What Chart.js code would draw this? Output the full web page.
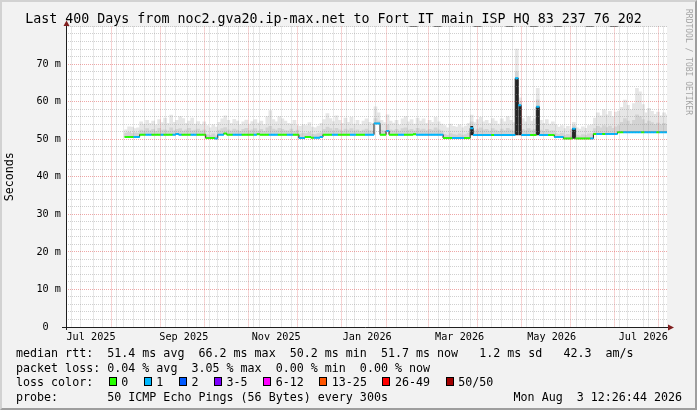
<!DOCTYPE html>
<html>
<head>
<meta charset="utf-8">
<script src="https://cdn.jsdelivr.net/npm/chart.js@4/dist/chart.umd.min.js"></script>
<style>
html,body{margin:0;padding:0;background:#f2f2f2;overflow:hidden}
#frame{position:absolute;left:0;top:0;width:697px;height:410px;box-sizing:border-box;border:2px solid;border-color:#d2d2d2 #9e9e9e #9e9e9e #d2d2d2;background:#f2f2f2}
#canvasBg{position:absolute;left:66px;top:26.5px;width:601px;height:300.5px;background:#fff}
#c{position:absolute;left:0;top:0;width:697px;height:410px}
.t{position:absolute;font-family:'DejaVu Sans Mono',monospace;font-size:11.67px;line-height:14px;white-space:pre;color:#000}
#wm{position:absolute;left:684px;top:9px;font-family:'DejaVu Sans Mono',monospace;font-size:8px;line-height:8px;writing-mode:vertical-rl;color:#a4a4a4;white-space:pre}
.bx{display:inline-block;width:2ch;height:1px;position:relative}
.bx i{position:absolute;left:1.5px;top:-8px;width:6px;height:7px;border:1px solid #000}
</style>
</head>
<body>
<div id="frame"></div>
<div id="canvasBg"></div>
<canvas id="c" width="697" height="410"></canvas>
<div id="wm">RRDTOOL / TOBI OETIKER</div>
<div class="t" id="l1" style="left:16px;top:346px"></div>
<div class="t" id="l2" style="left:16px;top:361px"></div>
<div class="t" id="l3" style="left:16px;top:375px"></div>
<div class="t" id="l4" style="left:16px;top:390px"></div>
<div class="t" id="l4r" style="right:15px;top:390px"></div>
<script>
// ---------------- data ----------------
// samples every 2 days, first sample 40 days after the graph start
const firstDay = 40;
const stepDays = 2;

// median rtt (ms)
const median = [
50.6,50.6,50.6,50.6,50.6,51.2,51.2,51.2,51.2,51.2,
51.2,51.2,51.2,51.2,51.2,51.2,51.2,51.4,51.2,51.2,
51.2,51.2,51.2,51.2,51.2,51.2,51.2,50.3,50.3,50.3,
50.2,51.2,51.2,51.5,51.2,51.2,51.2,51.2,51.2,51.2,
51.2,51.2,51.2,51.2,51.3,51.2,51.2,51.2,51.2,51.2,
51.2,51.2,51.2,51.2,51.2,51.2,51.2,51.2,50.3,50.3,
50.6,50.6,50.4,50.4,50.4,50.6,51.2,51.2,51.2,51.2,
51.2,51.2,51.2,51.2,51.2,51.2,51.2,51.2,51.2,51.2,
51.2,51.2,51.2,54.2,54.2,51.2,51.2,52.2,51.2,51.2,
51.2,51.2,51.2,51.2,51.2,51.2,51.3,51.2,51.2,51.2,
51.2,51.2,51.2,51.2,51.2,51.2,50.3,50.3,50.3,50.3,
50.3,50.3,50.3,50.3,50.3,52.9,51.1,51.1,51.1,51.1,
51.1,51.1,51.1,51.1,51.1,51.1,51.1,51.1,51.1,51.1,
66.2,59.0,51.1,51.1,51.1,51.1,51.1,58.6,51.1,51.1,
51.1,51.1,51.1,50.6,50.6,50.6,50.2,50.2,50.2,52.8,
50.2,50.2,50.2,50.2,50.2,50.2,51.4,51.4,51.4,51.4,
51.4,51.4,51.4,51.4,51.85,51.85,51.85,51.85,51.85,51.85,
51.85,51.85,51.85,51.85,51.85,51.85,51.85,51.85,51.85,51.85,51.85
];

// lost pings per sample (index into lossColors)
const loss = [
0,0,0,1,1,0,0,1,1,0,
0,0,1,0,0,0,1,1,1,0,
0,0,1,1,0,0,0,0,0,0,
1,1,1,0,0,0,1,1,1,0,
0,0,0,1,0,0,0,0,1,1,
1,0,0,0,1,1,0,0,1,1,
0,0,0,1,1,1,0,0,0,1,
1,0,0,0,0,1,1,0,0,0,
1,1,1,1,1,0,0,1,0,0,
0,1,1,0,0,0,0,1,1,1,
1,1,1,1,1,1,0,0,0,1,
1,1,1,0,0,1,1,1,1,1,
1,1,0,1,1,1,1,1,1,1,
1,1,1,1,1,0,0,1,1,1,
1,0,0,1,1,1,0,0,0,1,
0,0,0,0,0,1,0,1,1,0,
1,1,1,1,0,0,1,1,1,1,
1,1,0,1,1,1,1,0,1,1,1
];

// dense smoke top (ms)
const smokeMid = [
51.6,51.8,51.5,51.7,51.6,52.4,52.2,52.8,52.3,52.6,
52.1,52.9,52.4,52.5,52.2,53.0,52.3,52.6,52.8,52.2,
52.5,52.9,52.3,52.4,52.7,52.2,52.5,51.2,51.0,51.4,
50.9,52.4,52.8,53.1,52.5,52.2,52.7,52.4,52.1,52.6,
52.9,52.3,52.5,52.8,52.2,52.6,52.1,53.0,53.4,52.7,
52.4,52.9,52.6,52.3,52.2,52.7,52.1,52.4,51.4,51.6,
51.5,51.8,51.3,51.2,51.5,51.7,52.6,53.2,52.8,52.3,
52.9,52.5,52.2,52.7,52.4,52.8,52.2,52.5,52.1,52.4,
52.7,52.3,52.2,55.5,54.8,52.4,52.2,53.8,52.5,52.3,
52.6,52.2,52.8,53.0,52.4,52.6,52.2,52.9,52.5,52.7,
52.3,52.6,52.4,53.0,52.5,52.2,51.3,51.0,51.5,51.2,
51.1,51.4,51.0,51.2,51.6,54.6,52.3,52.7,53.0,52.5,
52.6,52.2,52.8,52.4,52.1,52.7,52.3,52.9,52.5,52.2,
68.0,60.0,52.6,52.3,52.8,52.4,52.6,60.5,52.4,52.1,
52.6,52.2,52.3,51.5,51.3,51.6,51.0,51.3,50.9,53.6,
51.1,50.9,51.2,51.0,51.4,51.5,52.8,53.4,53.0,53.6,
53.1,53.5,52.9,53.3,53.6,54.5,55.5,54.8,54.0,55.0,
56.5,56.0,55.2,54.2,54.8,54.4,53.9,54.3,53.8,54.2,53.9
];

// light smoke top (ms)
const smokeHi = [
52.5,53.3,53.2,52.8,53.0,54.6,54.0,55.0,54.2,54.8,
53.8,55.2,54.4,55.6,54.2,56.4,54.5,55.0,56.0,55.5,
54.2,54.8,55.6,54.0,54.7,53.9,54.6,53.6,53.0,53.8,
53.2,54.5,55.4,56.2,55.0,54.2,55.3,54.8,53.9,54.6,
55.1,54.0,54.7,55.2,54.3,54.8,53.9,56.0,57.6,55.2,
54.6,56.0,55.4,54.8,54.2,54.0,55.0,53.6,53.4,53.8,
53.6,54.4,53.2,53.0,53.5,54.2,55.2,56.8,55.5,54.7,
56.2,55.0,54.2,55.6,54.5,55.8,54.0,55.0,53.9,54.8,
55.4,54.5,54.2,58.6,57.0,55.0,54.4,56.5,54.8,54.3,
55.0,53.8,55.4,56.0,54.6,55.2,54.0,55.6,54.8,55.4,
54.2,55.0,54.5,55.8,54.6,54.0,53.6,53.0,54.0,53.4,
53.2,53.8,53.0,53.5,54.2,56.4,54.4,55.2,55.8,54.6,
55.0,54.2,55.5,54.8,54.0,55.4,54.6,56.0,55.0,54.4,
74.0,61.0,55.5,54.6,56.0,54.8,55.4,63.5,55.0,54.2,
55.2,54.0,54.6,53.8,53.2,53.6,52.8,53.4,52.6,54.5,
53.0,52.7,53.3,52.9,53.6,53.8,55.6,57.0,56.2,57.8,
56.5,57.4,56.0,57.2,57.5,58.5,60.4,59.0,57.8,59.5,
63.5,62.6,59.2,57.0,58.2,57.4,56.6,57.2,56.2,57.0,56.5
];

// fully saturated smoke under the spikes
const spikeDays = [270, 300, 302, 314, 338];
const spikeLo   = [51.1, 51.1, 51.1, 51.1, 50.2];
const spikeHi   = [53.4, 66.2, 59.0, 58.6, 52.8];

// axis / legend text
const xTickLabels = ['Jul 2025','Sep 2025','Nov 2025','Jan 2026','Mar 2026','May 2026','Jul 2026'];
const xTickDates  = ['2025-07-16T04:00Z','2025-09-15T22:00Z','2025-11-16T10:00Z','2026-01-16T00:00Z','2026-03-18T12:00Z','2026-05-18T19:00Z','2026-07-18T17:00Z'];
const yLabelValues = [0,10,20,30,40,50,60,70];
const yUnit = ' m';
const lossLabels = ['0','1','2','3-5','6-12','13-25','26-49','50/50'];
const lossColors = ['#26ff00','#00b8ff','#0059ff','#7e00ff','#ff00ff','#ff5500','#ff0000','#a10000'];
const titleText = 'Last 400 Days from noc2.gva20.ip-max.net to Fort_IT_main_ISP_HQ_83_237_76_202';
const statsLine = 'median rtt:  51.4 ms avg  66.2 ms max  50.2 ms min  51.7 ms now   1.2 ms sd   42.3  am/s';
const lossLine  = 'packet loss: 0.04 % avg  3.05 % max  0.00 % min  0.00 % now';
const probeLine = 'probe:       50 ICMP Echo Pings (56 Bytes) every 300s';
const stampLine = 'Mon Aug  3 12:26:44 2026';

// ---------------- time axis ----------------
const START = Date.UTC(2025, 5, 29, 12, 26, 44);
const DAY = 86400000;
const SPAN = 400;
const dayOf = t => (t - START) / DAY;

const xTicks = [];
for (let m = 6; m <= 19; m++) xTicks.push({value: dayOf(Date.UTC(2025, m, 1)), kind: 'major'});
for (let t = Date.UTC(2025, 6, 6); dayOf(t) < SPAN; t += 7 * DAY) {
  const v = dayOf(t);
  if (!xTicks.some(k => Math.abs(k.value - v) < 0.01)) xTicks.push({value: v, kind: 'minor'});
}
xTickDates.forEach((s, i) => xTicks.push({value: dayOf(Date.parse(s)), kind: 'label', label: xTickLabels[i]}));
xTicks.sort((a, b) => a.value - b.value);

const days = median.map((_, i) => firstDay + i * stepDays);

// ---------------- legend (html text) ----------------
document.getElementById('l1').textContent = statsLine;
document.getElementById('l2').textContent = lossLine;
document.getElementById('l3').innerHTML = 'loss color:  ' + lossLabels.map((l, k) =>
  '<span class="bx"><i style="background:' + lossColors[k] + '"></i></span>' + l).join('  ');
document.getElementById('l4').textContent = probeLine;
document.getElementById('l4r').textContent = stampLine;

// ---------------- chart ----------------
const MONO = "'DejaVu Sans Mono', monospace";
const MINOR = 'rgba(143,143,143,0.42)';
const MAJOR = 'rgba(222,79,79,0.5)';
const NONE = 'rgba(0,0,0,0)';
// plot is 601 px wide for 400 days -> one sample column
const COLUMN_PX = 601 / SPAN * stepDays;

const xGridColor = c => {
  const k = c && c.tick ? c.tick.kind : null;
  return k === 'major' ? MAJOR : (k === 'minor' ? MINOR : NONE);
};
const yGridColor = c => {
  if (!c || !c.tick) return NONE;
  const v = c.tick.value;
  if (v === 0) return NONE;
  return (v % 10 === 0 && v < 80) ? MAJOR : MINOR;
};

const rrdAxes = {
  id: 'rrdAxes',
  afterDraw(chart) {
    const {ctx, chartArea: a} = chart;
    const x0 = Math.round(a.left) + 0.5, y0 = Math.round(a.bottom) + 0.5;
    ctx.save();
    ctx.strokeStyle = '#1f1f1f';
    ctx.lineWidth = 1;
    ctx.beginPath();
    ctx.moveTo(a.left - 4, y0); ctx.lineTo(a.right + 2, y0);
    ctx.moveTo(x0, a.bottom + 3); ctx.lineTo(x0, a.top - 1);
    ctx.stroke();
    ctx.fillStyle = '#801f1f';
    ctx.beginPath();
    ctx.moveTo(a.right + 1, y0 - 3); ctx.lineTo(a.right + 7, y0); ctx.lineTo(a.right + 1, y0 + 3); ctx.closePath();
    ctx.fill();
    ctx.beginPath();
    ctx.moveTo(x0 - 3, a.top - 0.5); ctx.lineTo(x0, a.top - 6); ctx.lineTo(x0 + 3, a.top - 0.5); ctx.closePath();
    ctx.fill();
    ctx.restore();
  }
};

new Chart(document.getElementById('c'), {
  type: 'bar',
  data: {
    datasets: [
      {
        type: 'bar', order: 5, grouped: false,
        data: days.map((d, i) => ({x: d, y: [median[i], smokeHi[i]]})),
        backgroundColor: '#e6e6e6', borderWidth: 0,
        barThickness: COLUMN_PX + 0.05
      },
      {
        type: 'bar', order: 4, grouped: false,
        data: days.map((d, i) => ({x: d, y: [median[i], smokeMid[i]]})),
        backgroundColor: '#d3d3d3', borderWidth: 0,
        barThickness: COLUMN_PX + 0.05
      },
      {
        type: 'bar', order: 3, grouped: false,
        data: spikeDays.map((d, i) => ({x: d, y: [spikeLo[i], spikeHi[i]]})),
        backgroundColor: '#262626', borderWidth: 0,
        barThickness: COLUMN_PX - 0.8
      },
      {
        type: 'line', order: 2,
        data: days.map((d, i) => ({x: d, y: median[i]})),
        borderColor: '#202020', borderWidth: 1, stepped: 'middle',
        pointRadius: 0, fill: false
      },
      {
        type: 'line', order: 1, showLine: false,
        data: days.map((d, i) => ({x: d, y: median[i]})),
        pointStyle: 'line', pointRadius: 1.6, pointBorderWidth: 2,
        pointBorderColor: loss.map(l => lossColors[l]),
        pointBackgroundColor: loss.map(l => lossColors[l])
      }
    ]
  },
  options: {
    responsive: false,
    animation: false,
    events: [],
    layout: {padding: {left: 0, right: 30, top: 0, bottom: 63}},
    plugins: {
      legend: {display: false},
      tooltip: {enabled: false},
      title: {
        display: true, text: titleText, color: '#000',
        font: {family: MONO, size: 13.3, weight: 'normal'},
        padding: {top: 11.5, bottom: -1}
      }
    },
    scales: {
      x: {
        type: 'linear', min: 0, max: SPAN, offset: false,
        afterBuildTicks: s => { s.ticks = xTicks.map(t => Object.assign({}, t)); },
        afterFit: s => { s.height = 20; },
        ticks: {
          autoSkip: false, maxRotation: 0, minRotation: 0, padding: 4, color: '#000',
          font: {family: MONO, size: 10.2},
          callback: (v, i, ts) => (ts[i] && ts[i].kind === 'label') ? ts[i].label : ''
        },
        grid: {drawTicks: false, lineWidth: 1, z: 1, color: xGridColor},
        border: {display: false, dash: [1, 1]}
      },
      y: {
        min: 0, max: 80,
        afterFit: s => { s.width = 66; },
        ticks: {
          stepSize: 2, autoSkip: false, padding: 5, color: '#000',
          font: {family: MONO, size: 10.2},
          callback: v => yLabelValues.includes(v) ? (v === 0 ? '0  ' : v + yUnit) : ''
        },
        grid: {drawTicks: false, lineWidth: 1, z: 1, color: yGridColor},
        border: {display: false, dash: [1, 1]},
        title: {
          display: true, text: 'Seconds', color: '#000',
          font: {family: MONO, size: 11.67}, padding: {top: 3, bottom: 0}
        }
      }
    }
  },
  plugins: [rrdAxes]
});
</script>
</body>
</html>
